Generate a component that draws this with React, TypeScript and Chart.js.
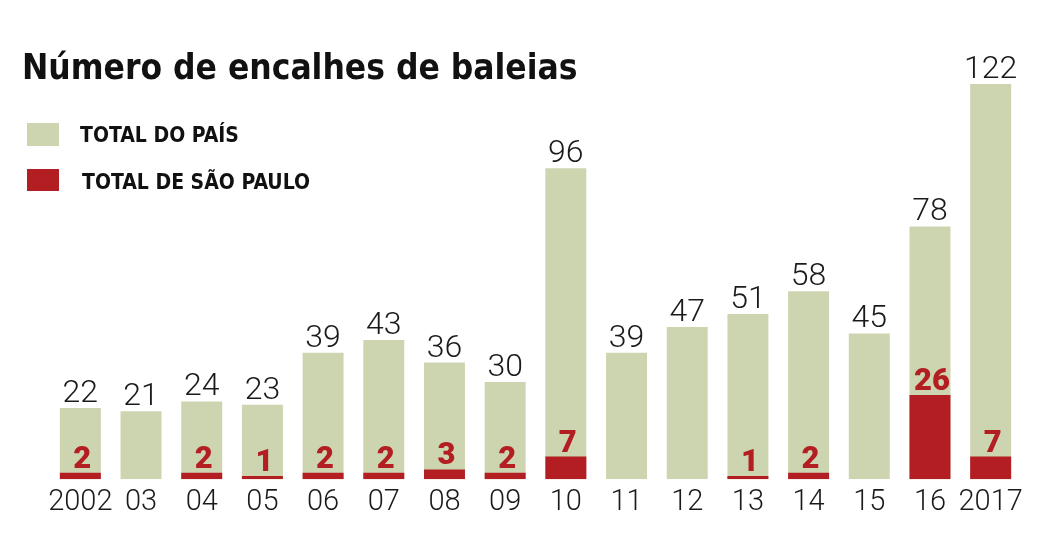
import React, { useEffect, useRef } from "react";
import { Chart, registerables } from "chart.js";

Chart.register(...registerables);

const categories = ["2002", "03", "04", "05", "06", "07", "08", "09", "10", "11", "12", "13", "14", "15", "16", "2017"];
const totalPais = [22, 21, 24, 23, 39, 43, 36, 30, 96, 39, 47, 51, 58, 45, 78, 122];
const totalSaoPaulo = [2, 0, 2, 1, 2, 2, 3, 2, 7, 0, 0, 1, 2, 0, 26, 7];
const titleText = "Número de encalhes de baleias";
const legendLabels = ["TOTAL DO PAÍS", "TOTAL DE SÃO PAULO"];

const GREEN = "#cdd5b0";
const RED = "#b31e22";
const COND = "'DejaVu Sans Condensed', 'DejaVu Sans', sans-serif";
const LIGHT = "Roboto, 'Noto Sans', sans-serif";

export default function App() {
  const ref = useRef<HTMLCanvasElement | null>(null);

  useEffect(() => {
    const canvas = ref.current;
    if (!canvas) return;

    const labelsPlugin = {
      id: "customLabels",
      afterDatasetsDraw(chart: any) {
        const ctx = chart.ctx;
        ctx.save();
        const gMeta = chart.getDatasetMeta(1);
        ctx.fillStyle = "#1a1a1a";
        ctx.font = `300 32px ${LIGHT}`;
        ctx.textAlign = "center";
        ctx.textBaseline = "alphabetic";
        gMeta.data.forEach((el: any, i: number) => {
          ctx.fillText(String(totalPais[i]), el.x, el.y - 6);
        });
        const rMeta = chart.getDatasetMeta(0);
        ctx.fillStyle = RED;
        ctx.font = `900 31px ${LIGHT}`;
        rMeta.data.forEach((el: any, i: number) => {
          const v = totalSaoPaulo[i];
          if (!v) return;
          ctx.fillText(String(v), el.x + 2, el.y - 5);
        });
        ctx.restore();
      },
      afterDraw(chart: any) {
        const ctx = chart.ctx;
        ctx.save();
        ctx.fillStyle = "#111";
        ctx.textAlign = "left";
        ctx.textBaseline = "alphabetic";
        ctx.font = `700 35px ${COND}`;
        ctx.fillText(titleText, 22, 79);
        ctx.fillStyle = GREEN;
        ctx.fillRect(27, 123, 32, 23);
        ctx.fillStyle = RED;
        ctx.fillRect(27, 169, 32, 22);
        ctx.fillStyle = "#111";
        ctx.font = `700 21px ${COND}`;
        ctx.fillText(legendLabels[0], 80, 142);
        ctx.fillText(legendLabels[1], 82, 189);
        ctx.restore();
      },
    };

    const chart = new Chart(canvas, {
      type: "bar",
      data: {
        labels: categories,
        datasets: [
          {
            label: legendLabels[1],
            data: totalSaoPaulo,
            backgroundColor: RED,
            order: 0,
            barPercentage: 0.675,
            categoryPercentage: 1,
          },
          {
            label: legendLabels[0],
            data: totalPais,
            backgroundColor: GREEN,
            order: 1,
            barPercentage: 0.675,
            categoryPercentage: 1,
          },
        ],
      },
      options: {
        responsive: false,
        animation: false,
        layout: { padding: { left: 50, right: 26, top: 58, bottom: 7 } },
        plugins: {
          legend: { display: false },
          title: { display: false },
          tooltip: { enabled: false },
        },
        scales: {
          x: {
            stacked: true,
            grid: { display: false, drawTicks: false },
            border: { display: false },
            ticks: {
              color: "#1a1a1a",
              font: { family: LIGHT, size: 29, weight: "300" },
              padding: 6,
              maxRotation: 0,
              autoSkip: false,
            },
          },
          y: {
            display: false,
            min: 0,
            max: 130,
            stacked: false,
          },
        },
      },
      plugins: [labelsPlugin],
    });
    return () => chart.destroy();
  }, []);

  return (
    <div style={{ position: "absolute", left: 0, top: 0, width: 1047, height: 533, background: "#fff" }}>
      <canvas ref={ref} width={1047} height={533} style={{ display: "block" }} />
    </div>
  );
}
